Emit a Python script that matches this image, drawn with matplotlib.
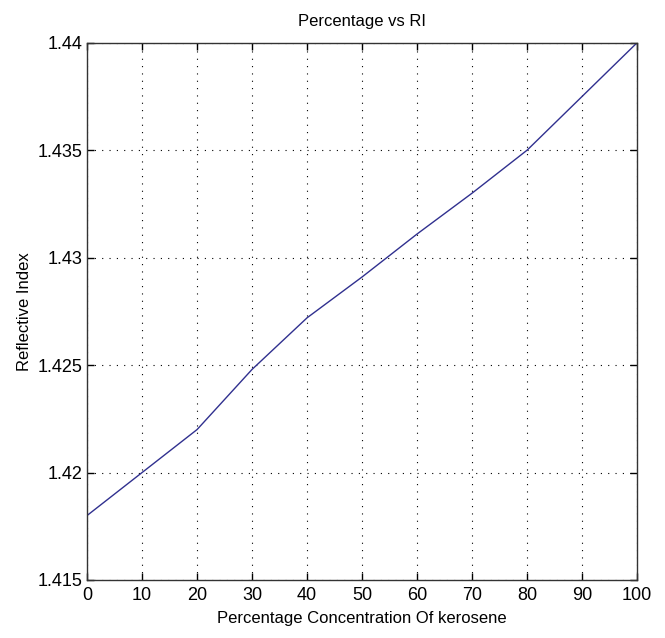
import numpy as np
import matplotlib
matplotlib.use("Agg")
import matplotlib.pyplot as plt

plt.rcParams['font.family'] = ['Liberation Sans Narrow', 'Liberation Sans', 'DejaVu Sans']

# percentage of kerosene vs refractive index
concentration = [0, 10, 20, 30, 40, 50, 60, 70, 80, 90, 100]
ri = [1.418, 1.420, 1.422, 1.4248, 1.4272, 1.4291, 1.4311, 1.4330, 1.4350, 1.4375, 1.440]

x_ticks = [0, 10, 20, 30, 40, 50, 60, 70, 80, 90, 100]
y_ticks = [1.415, 1.42, 1.425, 1.43, 1.435, 1.44]
y_tick_labels = ['1.415', '1.42', '1.425', '1.43', '1.435', '1.44']

fig = plt.figure(figsize=(6.65, 6.38), dpi=100)
ax = fig.add_axes([0.131, 0.091, 0.827, 0.842])

ax.plot(concentration, ri, color='#30308f', linewidth=1.0)

ax.set_xlim(0, 100)
ax.set_ylim(1.415, 1.44)
ax.set_xticks(x_ticks)
ax.set_yticks(y_ticks)
ax.set_yticklabels(y_tick_labels)
ax.tick_params(direction='in', top=True, right=True, labelsize=13, length=5, width=1)
ax.tick_params(axis='x', pad=5)
ax.grid(True, linestyle=(0, (1, 5.6)), color='black', linewidth=0.8)
for s in ax.spines.values():
    s.set_linewidth(1.0)
    s.set_color('#333333')

ax.set_title('Percentage vs RI', fontsize=12, pad=12)
ax.set_xlabel('Percentage Concentration Of kerosene', fontsize=12, labelpad=5)
ax.set_ylabel('Reflective Index', fontsize=12, labelpad=4)

fig.savefig('out.png', dpi=100)
